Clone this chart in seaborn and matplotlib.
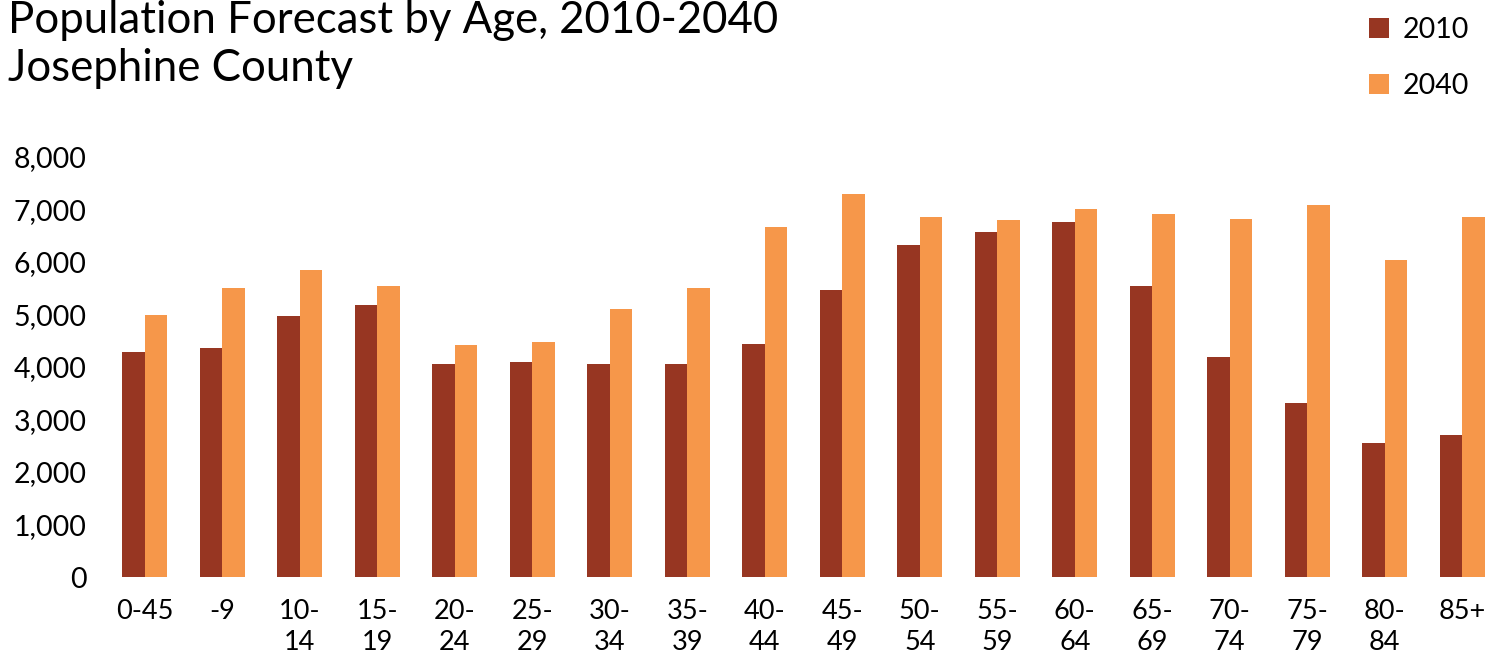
import matplotlib
matplotlib.use("Agg")
import matplotlib.pyplot as plt
import seaborn as sns
import pandas as pd
from matplotlib.patches import Patch

age_groups = ["0-45", "-9", "10-\n14", "15-\n19", "20-\n24", "25-\n29", "30-\n34", "35-\n39",
              "40-\n44", "45-\n49", "50-\n54", "55-\n59", "60-\n64", "65-\n69", "70-\n74",
              "75-\n79", "80-\n84", "85+"]
pop_2010 = [4290, 4360, 4970, 5180, 4060, 4100, 4060, 4060, 4440, 5470, 6320, 6570, 6760,
            5540, 4190, 3310, 2550, 2700]
pop_2040 = [4990, 5500, 5850, 5540, 4420, 4480, 5100, 5500, 6670, 7300, 6860, 6800, 7010,
            6910, 6820, 7090, 6040, 6860]
years = ["2010", "2040"]
colors = ["#973622", "#F6974A"]

df = pd.DataFrame({
    "age": age_groups * 2,
    "pop": pop_2010 + pop_2040,
    "year": [years[0]] * len(age_groups) + [years[1]] * len(age_groups),
})

sns.set_style("white")
plt.rcParams["font.family"] = ["Lato", "DejaVu Sans"]
plt.rcParams["text.color"] = "black"
plt.rcParams["xtick.color"] = "black"
plt.rcParams["ytick.color"] = "black"

W, H = 1486, 658
fig = plt.figure(figsize=(W / 100, H / 100), dpi=100)
ax = fig.add_axes([106 / W, 81 / H, (W - 106) / W, 420 / H])

sns.barplot(data=df, x="age", y="pop", hue="year", palette=colors, width=0.58,
            saturation=1, ax=ax, legend=False, order=age_groups, linewidth=0,
            edgecolor="none")

ax.set_xlim(-0.5, -0.5 + (W - 106) / 77.5)
ax.set_ylim(0, 8000)
ax.set_yticks(range(0, 8001, 1000))
ax.set_yticklabels([f"{v:,}" for v in range(0, 8001, 1000)], fontsize=20.5)
ax.tick_params(axis="x", labelsize=19.5, length=0, pad=16)
ax.tick_params(axis="y", length=0, pad=14)
for lbl in ax.get_xticklabels():
    lbl.set_linespacing(1.3)
ax.set_xlabel("")
ax.set_ylabel("")
for s in ax.spines.values():
    s.set_visible(False)

fig.text(8 / W, 1 - 0 / H, "Population Forecast by Age, 2010-2040\nJosephine County",
         fontsize=31.5, va="top", ha="left", linespacing=1.22)

handles = [Patch(facecolor=c, edgecolor="none") for c in colors]
fig.legend(handles, years, loc="upper left", bbox_to_anchor=(1358 / W, 1 - 6 / H),
           frameon=False, fontsize=20.5, handlelength=0.7, handleheight=0.7,
           handletextpad=0.45, labelspacing=1.05, borderaxespad=0)

fig.savefig("out.png", dpi=100)
